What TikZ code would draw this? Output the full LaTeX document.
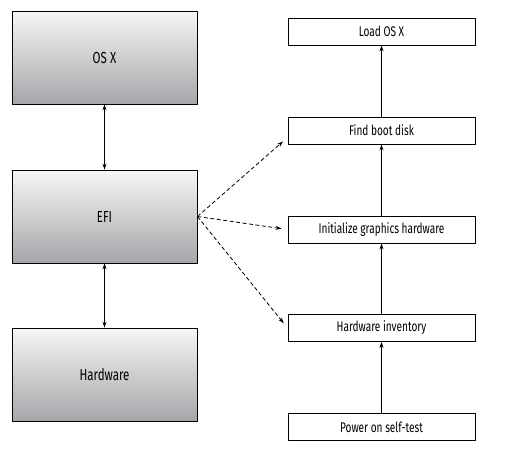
\documentclass[tikz,border=0pt]{standalone}
\usepackage{fontspec}
\setmainfont[FakeStretch=0.72]{Fira Sans}
\usetikzlibrary{arrows.meta}
\definecolor{shadetop}{HTML}{F6F6F6}
\definecolor{shadebot}{HTML}{A6A6AA}
\tikzset{
  every picture/.style={line join=round, >={Stealth[length=6pt,width=4pt]}},
  layer/.style={draw, line width=0.9pt, top color=shadetop, bottom color=shadebot,
    minimum width=185pt, minimum height=93pt, inner sep=0pt, font=\fontsize{16}{18}\selectfont},
  stage/.style={draw, line width=0.9pt, fill=white,
    minimum width=187pt, minimum height=27pt, inner sep=0pt, font=\fontsize{14}{16}\selectfont},
  flow/.style={->, line width=0.8pt},
  call/.style={->, line width=0.8pt, dashed, dash pattern=on 4pt off 2.5pt, shorten >=6pt},
}

\begin{document}
\begin{tikzpicture}[x=1pt,y=1pt]
\useasboundingbox (0,0) rectangle (519,-463);
% left column
\node[layer](osx) at (104.5,-57.5){OS X};
\node[layer](efi) at (104.5,-216.5){EFI};
\node[layer](hw) at (104.5,-374.5){Hardware};
\draw[<->, line width=0.8pt](osx)--(efi);
\draw[<->, line width=0.8pt](efi)--(hw);
% right column
\node[stage](load) at (381.5,-31.5){Load OS X};
\node[stage](boot) at (381.5,-130.5){Find boot disk};
\node[stage](gfx) at (381.5,-229.5){Initialize graphics hardware};
\node[stage](inv) at (381.5,-328){Hardware inventory};
\node[stage](post) at (381.5,-427){Power on self-test};
\draw[flow](post)--(inv);
\draw[flow](inv)--(gfx);
\draw[flow](gfx)--(boot);
\draw[flow](boot)--(load);
% dashed calls
\draw[call](efi.east)--([yshift=-7pt]boot.west);
\draw[call](efi.east)--(gfx.west);
\draw[call](efi.east)--(inv.west);
\end{tikzpicture}
\end{document}
